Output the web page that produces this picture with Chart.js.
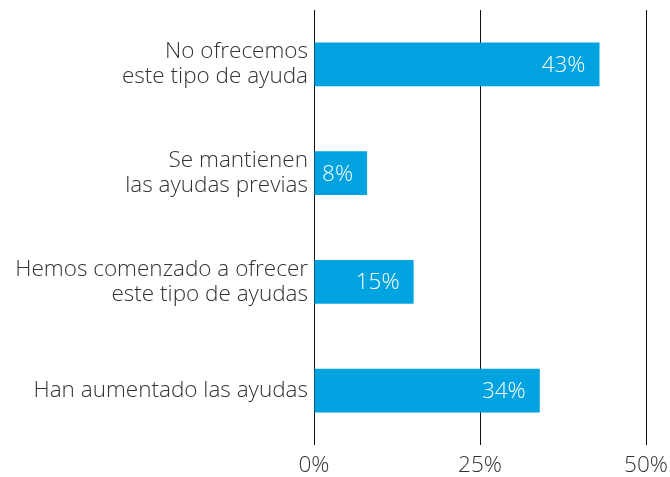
<!DOCTYPE html>
<html>
<head>
<meta charset="utf-8">
<script src="https://cdn.jsdelivr.net/npm/chart.js@4"></script>
<style>
  body { margin: 0; background: #fff; }
  #wrap { width: 670px; height: 477px; }
</style>
</head>
<body>
<div id="wrap"><canvas id="bars" width="670" height="477"></canvas></div>
<script>
var categories = [
  ['No ofrecemos', 'este tipo de ayuda'],
  ['Se mantienen', 'las ayudas previas'],
  ['Hemos comenzado a ofrecer', 'este tipo de ayudas'],
  ['Han aumentado las ayudas']
];
var values = [43, 8, 15, 34];
var tickValues = [0, 25, 50];

var barColor = '#00a3e0';
var textColor = '#333333';
var fontFamily = '"Open Sans", sans-serif';
var fontSize = 22.5;

// white % labels inside the right end of each bar
var valueLabels = {
  id: 'valueLabels',
  afterDatasetsDraw: function(chart) {
    var c = chart.ctx;
    var meta = chart.getDatasetMeta(0);
    c.save();
    c.fillStyle = '#ffffff';
    c.font = '300 ' + fontSize + 'px ' + fontFamily;
    c.textAlign = 'right';
    c.textBaseline = 'middle';
    meta.data.forEach(function(bar, i) {
      c.fillText(values[i] + '%', bar.x - 14, bar.y + 1);
    });
    c.restore();
  }
};

var ctx = document.getElementById('bars').getContext('2d');
var chart = new Chart(ctx, {
  type: 'bar',
  data: {
    labels: categories,
    datasets: [{
      data: values,
      backgroundColor: barColor,
      borderWidth: 0,
      barPercentage: 0.404,
      categoryPercentage: 1
    }]
  },
  options: {
    indexAxis: 'y',
    responsive: false,
    animation: false,
    layout: { padding: { top: 10, right: 24, bottom: 0, left: 0 } },
    plugins: {
      legend: { display: false },
      tooltip: { enabled: false }
    },
    scales: {
      x: {
        min: 0,
        max: 50,
        afterBuildTicks: function(axis) {
          axis.ticks = tickValues.map(function(v) { return { value: v }; });
        },
        afterFit: function(axis) {
          axis.height = 32;
          axis.paddingLeft = 0;
          axis.paddingRight = 0;
        },
        grid: { color: '#111111', lineWidth: 1, drawTicks: false },
        border: { display: false },
        ticks: {
          padding: 7,
          color: textColor,
          font: { family: fontFamily, size: fontSize, weight: '300', lineHeight: 1.2 },
          callback: function(v) { return v + '%'; }
        }
      },
      y: {
        afterFit: function(axis) {
          axis.width = 314;
          axis.paddingTop = 0;
          axis.paddingBottom = 0;
        },
        grid: { display: false, drawTicks: false },
        border: { display: false },
        ticks: {
          padding: 6,
          color: textColor,
          font: { family: fontFamily, size: fontSize, weight: '300', lineHeight: 1.1 }
        }
      }
    }
  },
  plugins: [valueLabels]
});
</script>
</body>
</html>
